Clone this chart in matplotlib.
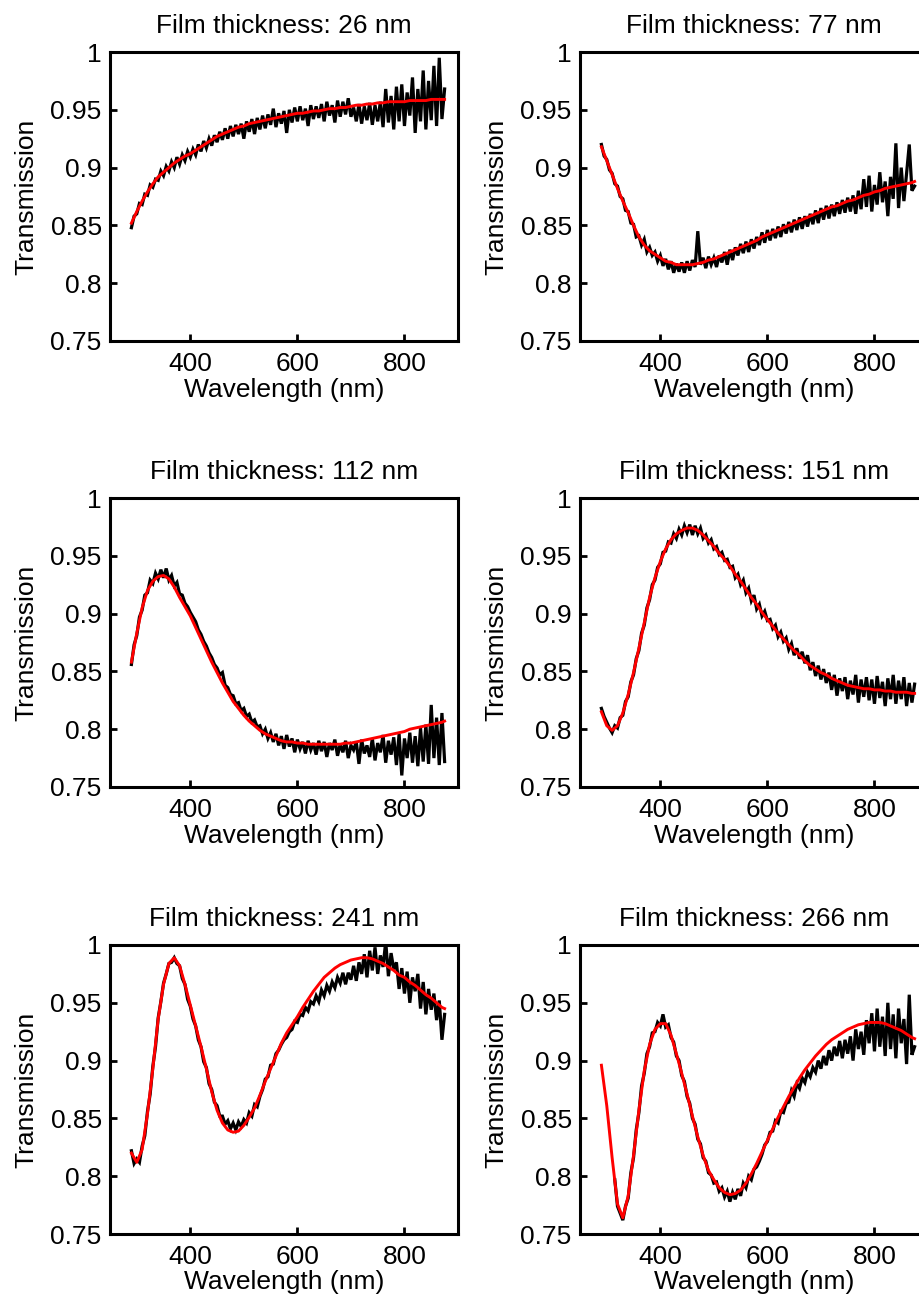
import numpy as np
import matplotlib
matplotlib.use("Agg")
import matplotlib.pyplot as plt
from matplotlib.ticker import FormatStrFormatter

plt.rcParams['font.family'] = ['Liberation Sans', 'DejaVu Sans']

# film thicknesses (nm), one panel each
thickness = [26, 77, 112, 151, 241, 266]

# measured spectra, sampled every 5 nm from 290 to 875 nm
wl_meas = np.arange(290, 880, 5)

meas_26 = [
    .848, .858, .860, .869, .868, .877, .876, .885, .883, .890,
    .889, .897, .893, .901, .897, .905, .900, .909, .903, .911,
    .906, .914, .909, .916, .911, .920, .914, .923, .917, .925,
    .919, .928, .922, .931, .924, .934, .925, .936, .927, .937,
    .929, .938, .925, .940, .931, .942, .929, .943, .933, .945,
    .934, .946, .937, .951, .935, .947, .938, .949, .930, .950,
    .939, .952, .940, .953, .941, .951, .936, .954, .942, .953,
    .943, .955, .940, .957, .945, .954, .939, .958, .944, .957,
    .946, .960, .944, .952, .940, .955, .938, .953, .941, .956,
    .937, .954, .940, .957, .935, .968, .939, .962, .933, .970,
    .940, .972, .936, .965, .945, .978, .930, .968, .940, .984,
    .933, .975, .941, .988, .936, .995, .942, .968]

meas_77 = [
    .920, .910, .907, .898, .895, .886, .884, .875, .873, .863,
    .862, .852, .851, .840, .841, .833, .838, .827, .831, .824,
    .827, .819, .824, .815, .821, .812, .819, .809, .817, .810,
    .818, .809, .819, .811, .820, .814, .845, .816, .822, .813,
    .823, .816, .822, .814, .824, .818, .827, .816, .829, .820,
    .831, .824, .834, .826, .836, .827, .838, .830, .840, .833,
    .844, .835, .846, .837, .847, .839, .849, .840, .851, .843,
    .853, .844, .855, .846, .857, .847, .858, .849, .860, .851,
    .863, .852, .865, .855, .867, .856, .868, .858, .870, .860,
    .872, .861, .874, .862, .876, .860, .880, .864, .890, .866,
    .893, .862, .885, .868, .896, .870, .888, .858, .892, .873,
    .921, .865, .900, .871, .895, .920, .880, .884]

meas_112 = [
    .856, .873, .881, .897, .903, .916, .918, .929, .926, .935,
    .930, .938, .931, .939, .929, .933, .924, .927, .917, .916,
    .909, .906, .901, .897, .893, .886, .882, .876, .872, .866,
    .862, .856, .853, .847, .849, .838, .836, .830, .829, .822,
    .823, .816, .818, .811, .813, .806, .808, .802, .803, .796,
    .800, .792, .797, .789, .796, .786, .794, .783, .795, .785,
    .792, .780, .791, .783, .789, .779, .790, .782, .788, .778,
    .790, .781, .789, .776, .788, .782, .791, .777, .787, .780,
    .790, .775, .786, .782, .789, .770, .791, .779, .786, .776,
    .792, .773, .788, .780, .795, .771, .790, .778, .793, .769,
    .796, .760, .792, .775, .797, .771, .794, .768, .801, .772,
    .804, .770, .821, .775, .810, .769, .814, .772]

meas_151 = [
    .818, .811, .806, .801, .797, .803, .801, .810, .812, .824,
    .828, .841, .847, .861, .868, .883, .890, .905, .912, .925,
    .929, .940, .943, .953, .954, .962, .961, .969, .965, .973,
    .968, .976, .970, .977, .968, .976, .969, .974, .965, .968,
    .961, .964, .956, .958, .951, .953, .946, .947, .940, .941,
    .931, .934, .925, .929, .918, .922, .911, .916, .904, .908,
    .898, .902, .894, .895, .887, .890, .880, .884, .876, .879,
    .869, .874, .864, .870, .861, .867, .857, .864, .851, .858,
    .846, .855, .843, .852, .840, .849, .834, .847, .829, .844,
    .833, .845, .826, .842, .830, .847, .823, .843, .828, .845,
    .825, .843, .822, .846, .827, .841, .820, .844, .826, .847,
    .822, .842, .826, .845, .820, .840, .823, .839]

meas_241 = [
    .822, .811, .815, .812, .826, .835, .856, .871, .895, .912,
    .937, .951, .967, .975, .984, .985, .989, .984, .982, .971,
    .966, .953, .947, .936, .930, .918, .912, .899, .894, .880,
    .875, .864, .861, .852, .852, .845, .848, .841, .846, .840,
    .847, .843, .849, .846, .855, .852, .862, .860, .869, .875,
    .884, .886, .896, .897, .906, .909, .914, .918, .920, .925,
    .927, .934, .933, .940, .939, .946, .943, .951, .949, .956,
    .951, .961, .956, .965, .960, .968, .963, .972, .967, .976,
    .966, .976, .970, .982, .969, .985, .975, .992, .972, .995,
    .978, .998, .975, .991, .981, 1.003, .973, .993, .979, .985,
    .962, .980, .958, .977, .950, .972, .960, .975, .945, .968,
    .940, .962, .944, .958, .935, .952, .918, .940]

meas_266 = [
    np.nan, np.nan, np.nan, np.nan, np.nan, .797, .774, .768, .762, .774,
    .781, .803, .816, .840, .855, .878, .889, .906, .912, .924,
    .925, .933, .930, .940, .929, .931, .920, .916, .904, .900,
    .887, .882, .869, .863, .850, .845, .832, .828, .816, .813,
    .803, .801, .794, .795, .787, .790, .782, .787, .778, .786,
    .780, .789, .783, .794, .790, .800, .797, .806, .808, .813,
    .819, .827, .830, .838, .839, .848, .846, .856, .855, .863,
    .864, .874, .869, .880, .876, .885, .881, .890, .886, .894,
    .890, .900, .893, .904, .896, .909, .900, .912, .904, .917,
    .902, .918, .906, .921, .900, .927, .910, .925, .905, .935,
    .915, .941, .908, .945, .912, .938, .904, .950, .910, .940,
    .902, .945, .915, .936, .897, .957, .905, .912]

# fitted curves, every 10 nm from 290 to 870 plus 875 nm
wl_fit = np.append(np.arange(290, 880, 10), 875)

fit_26 = [
    .852, .862, .871, .879, .886, .892, .896, .900, .904, .907,
    .910, .912, .915, .918, .921, .924, .927, .929, .931, .933,
    .935, .936, .938, .939, .940, .941, .942, .943, .944, .945,
    .946, .947, .947, .948, .949, .949, .950, .951, .951, .952,
    .952, .953, .954, .954, .955, .955, .956, .956, .957, .957,
    .957, .957, .958, .958, .958, .958, .959, .959, .959, .959]

fit_77 = [
    .918, .906, .894, .882, .871, .861, .850, .840, .833, .828,
    .825, .822, .819, .818, .816, .816, .816, .816, .817, .818,
    .820, .821, .823, .825, .827, .829, .831, .833, .835, .837,
    .840, .842, .844, .846, .848, .850, .852, .854, .856, .858,
    .860, .862, .864, .866, .867, .869, .871, .872, .874, .876,
    .877, .879, .880, .882, .883, .884, .885, .886, .887, .888]

fit_112 = [
    .858, .883, .905, .920, .928, .932, .933, .930, .923, .914,
    .906, .898, .888, .878, .868, .858, .849, .840, .832, .824,
    .818, .812, .807, .803, .799, .796, .794, .792, .790, .789,
    .789, .788, .788, .787, .787, .787, .787, .787, .787, .787,
    .788, .788, .789, .790, .791, .792, .793, .794, .795, .796,
    .797, .798, .800, .801, .802, .803, .804, .805, .806, .807]

fit_151 = [
    .815, .803, .799, .803, .814, .830, .849, .870, .892, .914,
    .931, .945, .956, .964, .969, .972, .974, .974, .972, .968,
    .963, .958, .952, .947, .941, .934, .928, .921, .914, .908,
    .901, .895, .889, .883, .878, .873, .868, .864, .859, .855,
    .852, .849, .847, .844, .842, .840, .838, .837, .836, .835,
    .835, .834, .834, .833, .833, .832, .832, .832, .831, .831]

fit_241 = [
    .820, .812, .823, .854, .893, .936, .966, .984, .989, .982,
    .966, .948, .930, .912, .893, .873, .857, .846, .840, .838,
    .839, .844, .851, .859, .870, .882, .893, .904, .915, .924,
    .931, .938, .946, .953, .960, .966, .972, .976, .980, .983,
    .985, .987, .988, .989, .989, .988, .986, .984, .981, .978,
    .974, .972, .968, .965, .961, .957, .954, .950, .946, .945]

fit_266 = [
    .896, .861, .816, .776, .764, .783, .818, .857, .891, .914,
    .927, .932, .932, .922, .906, .889, .871, .852, .834, .818,
    .805, .797, .790, .786, .784, .785, .788, .794, .802, .811,
    .821, .831, .841, .851, .860, .869, .877, .885, .892, .898,
    .904, .909, .914, .918, .921, .924, .927, .929, .931, .932,
    .933, .933, .933, .932, .930, .928, .926, .923, .920, .919]

measured = [meas_26, meas_77, meas_112, meas_151, meas_241, meas_266]
fitted = [fit_26, fit_77, fit_112, fit_151, fit_241, fit_266]

W, H = 920, 1306
fig = plt.figure(figsize=(W / 100, H / 100), dpi=100)

col_left = [110, 580]
row_top = [52, 498, 945]
ax_w, ax_h = 348, 289
fs = 19

for i, thk in enumerate(thickness):
    r, c = divmod(i, 2)
    rect = [col_left[c] / W, 1 - (row_top[r] + ax_h) / H, ax_w / W, ax_h / H]
    ax = fig.add_axes(rect)
    ax.plot(wl_meas, measured[i], color='black', lw=2.3, solid_joinstyle='miter')
    ax.plot(wl_fit, fitted[i], color='red', lw=2.1)
    ax.set_xlim(250, 900)
    ax.set_ylim(0.75, 1.0)
    ax.set_xticks([400, 600, 800])
    ax.set_yticks([0.75, 0.8, 0.85, 0.9, 0.95, 1.0])
    ax.yaxis.set_major_formatter(FormatStrFormatter('%g'))
    ax.tick_params(direction='in', length=5, width=2, labelsize=fs)
    ax.tick_params(axis='x', pad=8)
    ax.tick_params(axis='y', pad=6)
    for s in ax.spines.values():
        s.set_linewidth(2.2)
    ax.set_xlabel('Wavelength (nm)', fontsize=fs, labelpad=1)
    ax.set_ylabel('Transmission', fontsize=fs, labelpad=9)
    ax.set_title(f'Film thickness: {thk} nm', fontsize=fs, pad=14)

fig.savefig('out.png', dpi=100)
